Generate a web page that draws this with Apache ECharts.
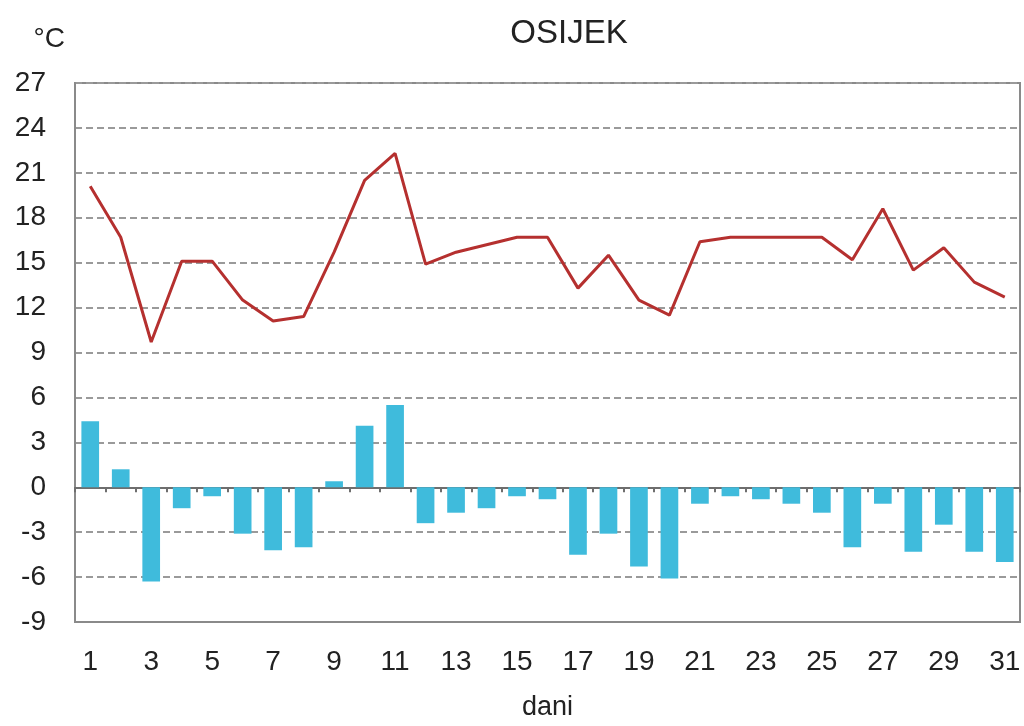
<!DOCTYPE html>
<html>
<head>
<meta charset="utf-8">
<script src="https://cdn.jsdelivr.net/npm/echarts@6/dist/echarts.min.js"></script>
<style>
  html, body { margin: 0; padding: 0; background: #fff; }
  #chart { width: 1024px; height: 726px; }
</style>
</head>
<body>
<div id="chart"></div>
<script>
const days = Array.from({ length: 31 }, (_, i) => String(i + 1))

// daily mean temperature (°C)
const temperature = [
  20.1, 16.7, 9.7, 15.1, 15.1, 12.5, 11.1, 11.4, 15.7, 20.5,
  22.3, 14.9, 15.7, 16.2, 16.7, 16.7, 13.3, 15.5, 12.5, 11.5,
  16.4, 16.7, 16.7, 16.7, 16.7, 15.2, 18.6, 14.5, 16.0, 13.7,
  12.7
]

// deviation from normal (°C)
const anomaly = [
  4.4, 1.2, -6.3, -1.4, -0.6, -3.1, -4.2, -4.0, 0.4, 4.1,
  5.5, -2.4, -1.7, -1.4, -0.6, -0.8, -4.5, -3.1, -5.3, -6.1,
  -1.1, -0.6, -0.8, -1.1, -1.7, -4.0, -1.1, -4.3, -2.5, -4.3,
  -5.0
]

const FONT = 'Liberation Sans, Arial, sans-serif'

const myChart = echarts.init(document.getElementById('chart'))

const option = {
  animation: false,
  backgroundColor: '#fff',
  title: {
    text: 'OSIJEK',
    left: 564,
    top: 12,
    textAlign: 'center',
    textStyle: { fontFamily: FONT, fontSize: 33, fontWeight: 'normal', color: '#222' }
  },
  grid: {
    left: 75,
    right: 4,
    top: 83,
    bottom: 103,
    show: true,
    borderColor: '#8a8a8a',
    borderWidth: 2
  },
  xAxis: [{
    type: 'category',
    data: days,
    boundaryGap: true,
    axisLine: { onZero: true, lineStyle: { color: '#6e6e6e', width: 2 } },
    axisTick: { show: true, length: 5, lineStyle: { color: '#6e6e6e', width: 2 } },
    axisLabel: { show: false }
  }, {
    type: 'category',
    data: days,
    position: 'bottom',
    boundaryGap: true,
    axisLine: { onZero: false, lineStyle: { color: '#8a8a8a', width: 2 } },
    axisTick: { show: false },
    axisLabel: {
      interval: 1,
      margin: 26,
      fontFamily: FONT,
      fontSize: 28,
      color: '#222'
    },
    name: 'dani',
    nameLocation: 'middle',
    nameGap: 72,
    nameTextStyle: { fontFamily: FONT, fontSize: 27, color: '#222' }
  }],
  yAxis: {
    type: 'value',
    min: -9,
    max: 27,
    interval: 3,
    name: '°C',
    nameLocation: 'end',
    nameGap: 30,
    nameTextStyle: { fontFamily: FONT, fontSize: 28, color: '#222', align: 'right', padding: [0, 10, 0, 0] },
    axisLine: { show: true, lineStyle: { color: '#8a8a8a', width: 2 } },
    axisTick: { show: false },
    axisLabel: { margin: 29, fontFamily: FONT, fontSize: 28, color: '#222' },
    splitLine: { show: true, lineStyle: { color: '#9a9a9a', width: 2, type: [7, 4] } }
  },
  series: [{
    type: 'bar',
    data: anomaly,
    xAxisIndex: 0,
    barWidth: '58%',
    itemStyle: { color: '#3fbbdc' },
    z: 2
  }, {
    type: 'line',
    data: temperature,
    xAxisIndex: 0,
    showSymbol: false,
    lineStyle: { color: '#b5302f', width: 3 },
    z: 3
  }]
}

myChart.setOption(option)
myChart.resize()
</script>
</body>
</html>
